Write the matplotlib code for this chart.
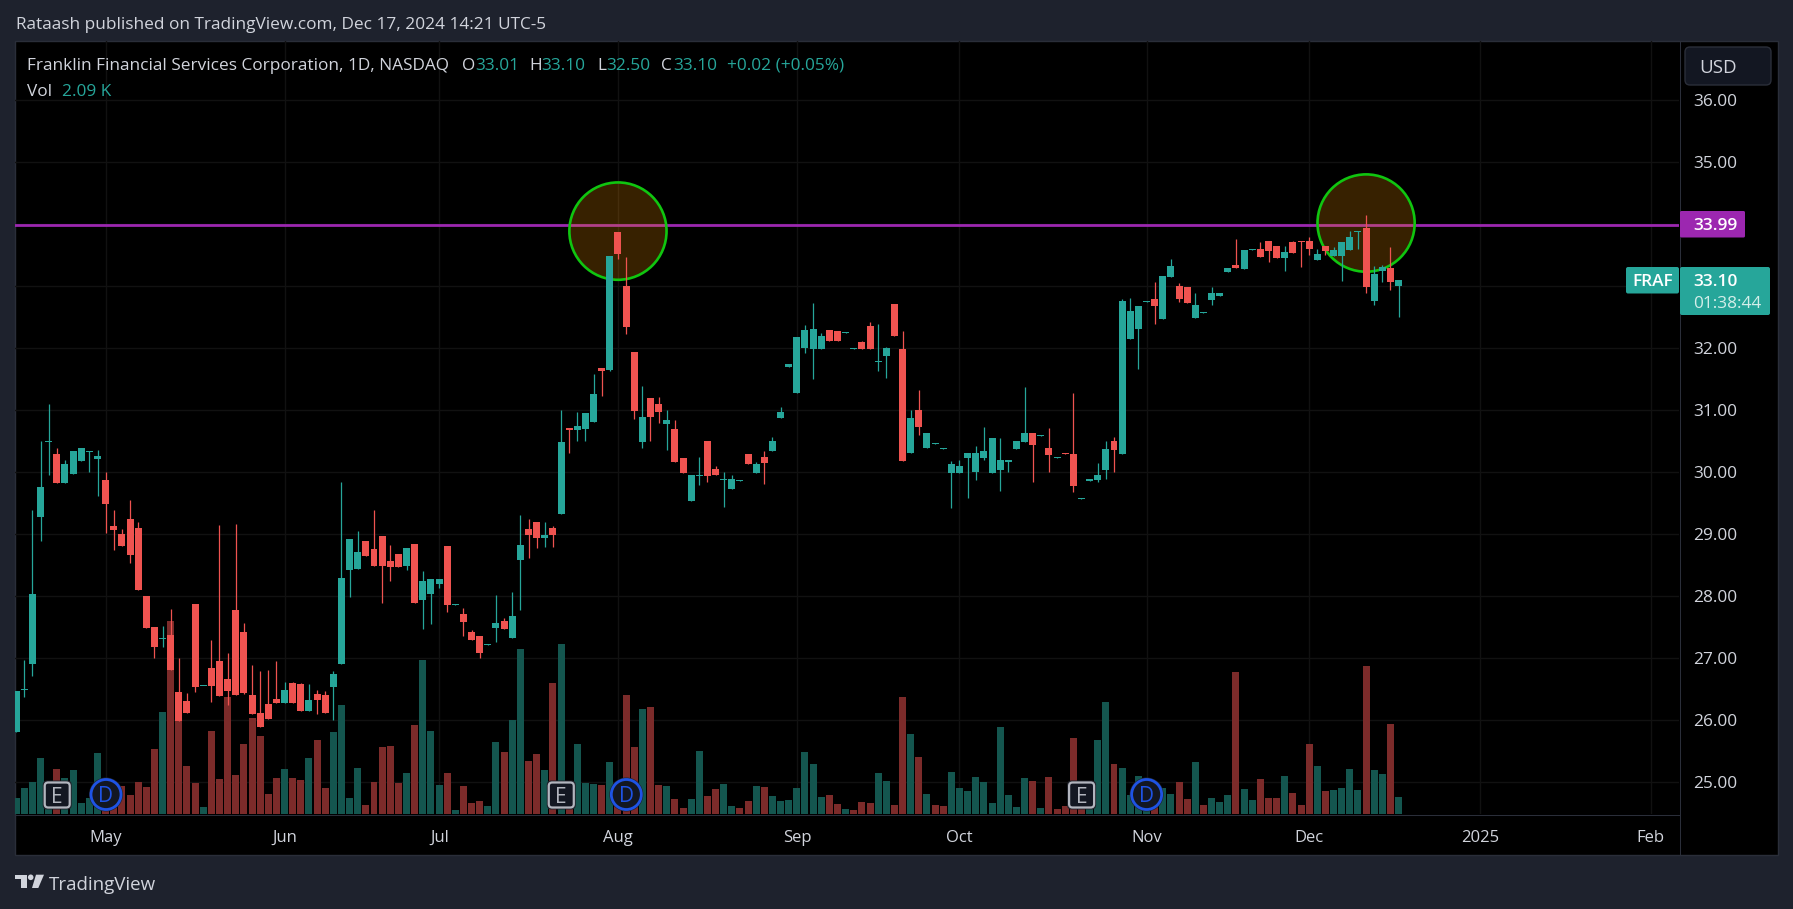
import numpy as np
import matplotlib
matplotlib.use('Agg')
import matplotlib.pyplot as plt
from matplotlib.patches import Rectangle, FancyBboxPatch, Ellipse, Polygon, Circle

plt.rcParams['font.family'] = ['Open Sans', 'DejaVu Sans']

W, H = 1793, 909

# trading day number, 0 = May 1 2024
first_day = -11

opens = [25.81,26.49,26.91,29.28,30.49,30.30,29.83,29.97,30.18,30.33,30.22,
    29.88,29.13,29.01,29.25,29.10,28.01,27.51,27.31,27.38,26.46,26.31,27.88,26.55,26.84,26.96,26.67,27.78,27.42,26.41,26.12,26.26,26.34,
    26.28,26.60,26.59,26.15,26.42,26.41,26.54,26.91,28.42,28.44,28.89,28.76,28.97,28.57,28.68,28.49,28.84,27.94,28.04,
    28.20,28.81,27.86,27.72,27.42,27.36,27.22,27.49,27.60,27.33,28.59,29.09,29.20,28.94,29.10,29.33,30.72,30.68,30.70,30.81,31.68,31.65,33.88,
    33.01,31.94,30.49,31.20,31.10,30.78,30.70,30.23,29.54,29.94,30.51,30.05,29.88,29.73,29.86,30.30,29.99,30.25,30.34,30.88,31.70,31.28,
    32.01,31.99,31.99,32.30,32.28,32.25,31.99,32.10,32.36,31.78,31.88,32.72,31.99,30.31,31.01,30.40,30.46,30.38,29.99,29.99,
    30.23,30.01,30.23,29.99,30.04,30.17,30.38,30.49,30.63,30.59,30.39,30.23,30.31,30.30,29.57,29.86,29.88,30.04,30.51,30.30,32.15,32.31,32.75,
    32.80,32.47,33.15,33.01,32.99,32.49,32.57,32.78,32.84,33.23,33.34,33.28,33.59,33.60,33.73,33.65,33.46,33.72,33.73,
    33.73,33.42,33.65,33.49,33.49,33.59,33.88,33.94,32.76,33.25,33.30,33.01]
highs = [26.47,26.98,29.40,30.51,31.10,30.39,30.20,30.34,30.39,30.34,30.36,
    30.01,29.39,29.09,29.55,29.20,28.01,27.51,27.52,27.80,27.01,26.44,27.88,26.56,27.30,29.15,27.09,29.17,27.57,26.89,26.80,26.81,26.96,
    26.62,26.62,26.60,26.59,26.49,26.47,26.80,29.84,28.92,29.05,28.89,29.39,28.97,28.83,28.68,28.78,28.84,28.41,28.28,
    28.28,28.81,27.87,27.81,27.46,27.36,27.23,28.02,27.65,28.07,29.31,29.25,29.20,29.20,29.13,31.01,30.72,30.97,30.96,31.59,31.68,33.49,33.88,
    33.47,31.94,31.39,31.20,31.22,31.01,30.84,30.23,29.96,30.25,30.51,30.10,30.01,29.96,29.87,30.30,30.17,30.34,30.57,31.05,31.75,32.18,
    32.38,32.73,32.25,32.30,32.28,32.26,32.00,32.12,32.42,32.39,32.02,32.72,32.28,31.01,31.32,30.63,30.47,30.39,30.18,30.20,
    30.31,30.42,30.73,30.55,30.55,30.20,30.51,31.38,30.63,30.60,30.72,30.24,30.31,31.28,29.58,29.89,30.15,30.51,30.57,32.80,32.81,32.68,32.76,
    33.07,33.17,33.44,33.05,32.99,32.89,32.58,32.99,32.89,33.30,33.76,33.59,33.60,33.72,33.73,33.65,33.65,33.73,33.73,
    33.80,33.60,33.65,33.63,33.72,33.89,33.89,34.15,33.33,33.34,33.63,33.10]
lows = [25.81,26.37,26.72,28.89,29.96,29.83,29.83,29.97,30.18,30.01,29.62,
    29.02,28.75,28.81,28.54,28.10,27.49,27.01,27.18,26.81,25.99,26.12,26.46,26.55,26.30,26.39,26.25,26.41,26.43,26.10,25.89,26.02,26.28,
    26.28,26.28,26.15,26.15,26.10,26.12,26.01,26.91,27.99,28.44,28.65,28.49,27.89,28.25,28.47,28.42,27.89,27.47,27.55,
    28.13,27.75,27.86,27.36,27.30,27.01,27.22,27.26,27.47,27.33,27.78,28.62,28.78,28.80,28.80,29.33,30.31,30.51,30.51,30.81,31.23,31.63,33.44,
    32.23,30.86,30.39,30.51,30.80,30.36,30.17,29.99,29.54,29.80,29.84,29.96,29.44,29.73,29.86,30.13,29.99,29.81,30.34,30.88,31.70,31.28,
    31.92,31.51,31.99,32.12,32.12,32.25,31.99,31.99,31.99,31.63,31.52,32.20,30.18,30.31,30.60,30.40,30.46,30.38,29.42,29.99,
    29.58,29.88,30.20,29.99,29.70,30.01,30.38,30.49,29.84,30.59,30.01,30.23,30.30,29.68,29.57,29.86,29.84,29.89,30.01,30.30,32.15,31.67,32.75,
    32.39,32.47,33.15,32.75,32.73,32.49,32.57,32.70,32.84,33.23,33.30,33.28,33.59,33.47,33.39,33.46,33.25,33.54,33.31,
    33.51,33.42,33.51,33.49,33.09,33.59,33.60,32.89,32.70,33.07,32.94,32.50]
closes = [26.47,26.50,28.04,29.76,30.50,29.83,30.13,30.34,30.39,30.34,30.26,
    29.49,29.07,28.81,28.67,28.10,27.49,27.18,27.32,26.81,25.99,26.12,26.54,26.56,26.55,26.39,26.47,26.41,26.44,26.10,25.89,26.02,26.28,
    26.49,26.28,26.15,26.33,26.33,26.12,26.75,28.30,28.92,28.71,28.65,28.49,28.49,28.47,28.47,28.78,27.89,28.25,28.28,
    28.28,27.86,27.87,27.59,27.30,27.09,27.23,27.57,27.47,27.68,28.83,28.99,28.94,28.99,28.99,30.49,30.68,30.75,30.96,31.26,31.63,33.49,33.52,
    32.34,30.99,30.89,30.89,30.97,30.84,30.17,29.99,29.96,29.95,29.94,29.96,29.89,29.89,29.87,30.13,30.13,30.15,30.51,30.97,31.75,32.18,
    32.30,32.31,32.20,32.12,32.12,32.26,32.00,31.99,31.99,31.79,32.01,32.20,30.18,30.88,30.73,30.63,30.47,30.39,30.13,30.10,
    30.31,30.31,30.34,30.55,30.20,30.20,30.51,30.63,30.44,30.60,30.28,30.24,30.30,29.78,29.58,29.89,29.96,30.38,30.36,32.76,32.60,32.68,32.76,
    32.68,33.17,33.33,32.80,32.73,32.70,32.58,32.89,32.89,33.30,33.30,33.59,33.60,33.47,33.57,33.46,33.55,33.54,33.72,
    33.60,33.52,33.57,33.59,33.72,33.80,33.89,32.99,33.20,33.31,33.07,33.10]
vols_k = [1.97,3.20,3.94,6.89,2.95,5.54,4.43,5.41,1.35,1.97,7.50,
    2.46,2.05,3.44,2.34,3.94,3.32,8.00,12.55,23.74,12.30,5.90,3.81,0.86,10.21,4.31,14.39,4.80,8.61,11.81,9.59,2.46,4.43,
    5.54,4.43,4.18,6.89,9.10,3.20,10.09,13.41,1.97,5.66,1.11,3.94,8.24,8.36,3.81,5.04,10.95,18.94,10.21,
    3.57,5.04,0.49,3.44,1.35,1.60,0.98,8.86,7.63,11.56,20.30,6.52,7.38,5.41,16.11,20.91,2.46,8.61,3.81,3.69,3.57,6.40,2.46,
    14.64,8.24,12.92,13.16,3.57,3.44,1.85,0.74,1.85,7.75,2.21,3.08,3.69,0.98,0.74,1.60,3.44,3.32,2.21,1.60,1.72,3.20,
    7.63,6.15,2.09,2.34,1.23,0.62,0.49,1.48,1.35,5.04,4.06,1.11,14.39,9.84,7.01,2.46,1.11,0.98,5.17,3.20,
    2.83,4.55,3.94,1.35,10.70,2.34,0.86,4.43,4.06,0.74,4.55,0.62,0.98,9.35,2.05,1.64,9.10,13.78,6.15,5.66,2.34,4.67,2.05,
    2.05,3.20,2.46,3.94,1.85,6.40,1.11,1.97,1.48,2.34,17.47,3.08,1.72,4.31,1.97,1.97,4.67,2.58,1.11,
    8.61,5.90,2.83,2.95,3.20,5.54,2.95,18.20,5.41,4.92,11.07,2.09]

# doji days where the volume bar is red even though the candle is teal
red_vol_days = [78, 92, 102, 103, 117, 120, 135]

month_days = [0, 22, 41, 63, 85, 105, 128, 148, 169, 190]
month_labels = ['May', 'Jun', 'Jul', 'Aug', 'Sep', 'Oct', 'Nov', 'Dec', '2025', 'Feb']
price_ticks = [25, 26, 27, 28, 29, 30, 31, 32, 33, 34, 35, 36]
# 33 and 34 sit behind the price tags, so they get no label
hidden_labels = [33, 34]
earnings_days = [-6, 56, 120]
dividend_days = [0, 64, 128]
resistance = 33.99
circle_days = [63, 155]
circle_prices = [33.89, 34.02]

UP = '#26A69A'
DOWN = '#EF5350'
VOL_UP = '#14564F'
VOL_DOWN = '#7C2B2A'
BG = '#1E222D'
BORDER = '#2A2E39'
TEXT = '#D1D4DC'
GRID = '#111111'
PURPLE = '#9C27B0'

days = np.arange(first_day, first_day + len(opens))
opens = np.array(opens)
closes = np.array(closes)
up = closes >= opens

fig = plt.figure(figsize=(W / 100, H / 100), dpi=100, facecolor=BG)


def px_axes(z):
    a = fig.add_axes([0, 0, 1, 1], zorder=z)
    a.set_xlim(0, W)
    a.set_ylim(H, 0)
    a.axis('off')
    return a


back = px_axes(0)
over = px_axes(5)
back.add_patch(Rectangle((14.5, 41), 1763.5, 814, fc='black', ec=BORDER, lw=1))

# plot area in pixels: x 15.3..1679, y 41..814
pos = [15.3 / W, 1 - 814 / H, (1679 - 15.3) / W, (814 - 41) / H]
vax = fig.add_axes(pos, zorder=1, facecolor='none')
ax = fig.add_axes(pos, zorder=2, facecolor='none')
xlim = (-11.11, 193.48)
ylim = (24.49, 36.956)
vax.set_xlim(xlim)
ax.set_xlim(xlim)
ax.set_ylim(ylim)
vax.set_ylim(0, 95.08)
for a in (ax, vax):
    a.set_xticks([])
    a.set_yticks([])
    for s in a.spines.values():
        s.set_visible(False)

# grid goes under the volume bars, on the volume axes
for d in month_days:
    vax.axvline(d, color=GRID, lw=1, zorder=0)
for p in price_ticks:
    vax.axhline((p - ylim[0]) / (ylim[1] - ylim[0]) * 95.08, color=GRID, lw=1, zorder=0)

# volume
vol_colors = [VOL_UP if u and d not in red_vol_days else VOL_DOWN for u, d in zip(up, days)]
vax.bar(days, vols_k, width=0.86, color=vol_colors, lw=0, zorder=1)

ax.axhline(resistance, color=PURPLE, lw=2.0, zorder=1)

# circles stay under the candles
for d, p in zip(circle_days, circle_prices):
    ax.add_patch(Ellipse((d, p), 11.95, 1.57, fc=(1.0, 0.6, 0.0, 0.22), ec='none', zorder=2))
    ax.add_patch(Ellipse((d, p), 11.95, 1.57, fc='none', ec='#10C510', lw=1.9, zorder=2.5))

# candles
colors = [UP if u else DOWN for u in up]
ax.vlines(days, lows, highs, colors=colors, lw=0.9, zorder=3)
body_low = np.minimum(opens, closes)
body_h = np.maximum(np.abs(closes - opens), 0.017)
ax.bar(days, body_h, bottom=body_low, width=0.86, color=colors, lw=0, zorder=4)

# earnings and dividend badges
for d in earnings_days:
    x = 106 + 8.13 * d
    over.add_patch(FancyBboxPatch((x - 14.5, 780.5), 29, 29, boxstyle='round,pad=0,rounding_size=4.5',
                                  fc='#20232C', ec='none'))
    over.add_patch(FancyBboxPatch((x - 12.5, 782.5), 25, 25, boxstyle='round,pad=0,rounding_size=3.5',
                                  fc='#131722', ec='#B2B5BE', lw=1.6))
    over.text(x, 795, 'E', color='#B2B5BE', fontsize=15, ha='center', va='center_baseline')
for d in dividend_days:
    x = 106 + 8.13 * d
    over.add_patch(Circle((x, 794.5), 17, fc='#20232C', ec='none'))
    over.add_patch(Circle((x, 794.5), 15, fc='#131722', ec='#1E53E5', lw=2))
    over.text(x, 794.5, 'D', color='#1E53E5', fontsize=15, ha='center', va='center_baseline')

# axis lines
over.plot([15, 1679], [814.5, 814.5], color=BORDER, lw=0.75)
over.plot([1679.5, 1679.5], [41, 855], color=BORDER, lw=0.75)

# time and price labels
for d, lab in zip(month_days, month_labels):
    over.text(106 + 8.13 * d, 836, lab, color=TEXT, fontsize=12, ha='center', va='center_baseline')
for p in price_ticks:
    if p not in hidden_labels:
        over.text(1693, 100.3 + (36 - p) * 62, '%.2f' % p, color=TEXT, fontsize=12.4, va='center_baseline')

# currency box and price tags
over.add_patch(FancyBboxPatch((1685, 47), 86, 38, boxstyle='round,pad=0,rounding_size=5', fc='#131722', ec=BORDER, lw=1))
over.text(1699, 66, 'USD', color=TEXT, fontsize=13.5, va='center_baseline', zorder=6)
over.add_patch(FancyBboxPatch((1680, 211), 65, 26.5, boxstyle='round,pad=0,rounding_size=1.5', fc=PURPLE, ec='none', zorder=5))
over.text(1693, 224.5, '33.99', color='white', fontsize=12.4, fontweight='semibold', va='center_baseline', zorder=6)
over.add_patch(FancyBboxPatch((1626, 267), 53, 26.5, boxstyle='round,pad=0,rounding_size=2', fc=UP, ec='none', zorder=5))
over.text(1632, 280.5, 'FRAF', color='white', fontsize=12.4, fontweight='semibold', va='center_baseline', zorder=6)
over.add_patch(FancyBboxPatch((1680, 267), 90, 48, boxstyle='round,pad=0,rounding_size=2', fc=UP, ec='none', zorder=5))
over.text(1693, 280.5, '33.10', color='white', fontsize=12.4, fontweight='semibold', va='center_baseline', zorder=6)
over.text(1693, 301.5, '01:38:44', color='#D3EEE9', fontsize=12.4, va='center_baseline', zorder=6)

# header and legend
over.text(15.5, 23, 'Rataash published on TradingView.com, Dec 17, 2024 14:21 UTC-5', color=TEXT, fontsize=12.4, va='center_baseline')
legend_parts = [(27, 'Franklin Financial Services Corporation, 1D, NASDAQ', TEXT), (462, 'O', TEXT), (475, '33.01', UP),
                (529, 'H', TEXT), (541, '33.10', UP), (597, 'L', TEXT), (606, '32.50', UP), (661, 'C', TEXT),
                (673, '33.10', UP), (727, '+0.02 (+0.05%)', UP)]
for x, s, c in legend_parts:
    over.text(x, 64, s, color=c, fontsize=12.4, va='center_baseline')
over.text(27, 90, 'Vol', color=TEXT, fontsize=12.4, va='center_baseline')
over.text(62, 90, '2.09 K', color=UP, fontsize=12.4, va='center_baseline')

# TradingView logo
over.add_patch(Polygon([(15, 874.7), (26.7, 874.7), (26.7, 888), (21, 888), (21, 879), (15, 879)], fc=TEXT, ec='none'))
over.add_patch(Circle((30.7, 877.3), 2.8, fc=TEXT, ec='none'))
over.add_patch(Polygon([(36, 874.7), (44, 874.7), (38.3, 888), (32, 888)], fc=TEXT, ec='none'))
over.text(49, 883, 'TradingView', color=TEXT, fontsize=13.5, va='center_baseline')

fig.savefig('out.png', dpi=100, facecolor=BG)
